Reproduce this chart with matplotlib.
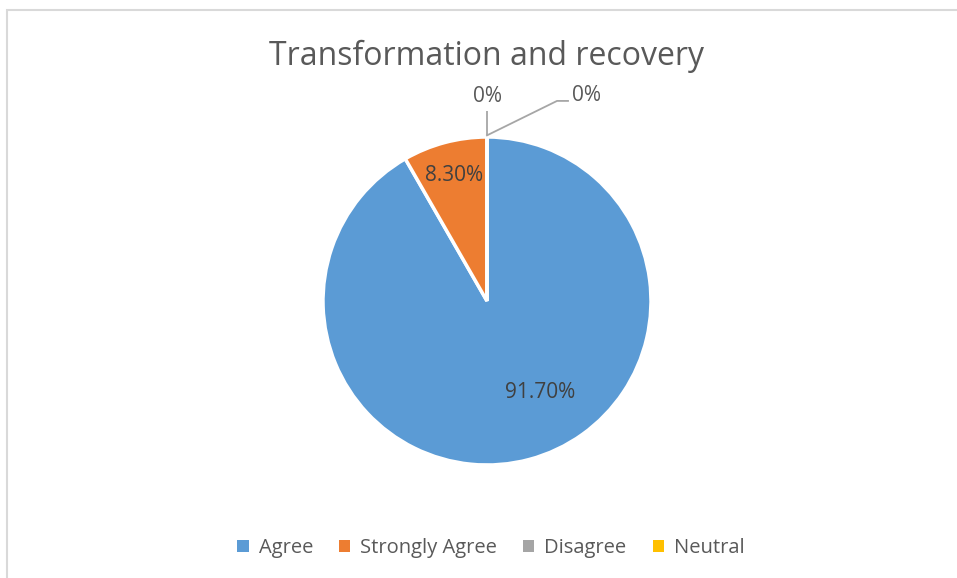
import matplotlib.pyplot as plt
from matplotlib.patches import Rectangle
import numpy as np

# Survey responses
labels = ["Agree", "Strongly Agree", "Disagree", "Neutral"]
shares = [91.7, 8.3, 0.0, 0.0]
pct_text = ["91.70%", "8.30%", "0%", "0%"]
colors = ["#5B9BD5", "#ED7D31", "#A5A5A5", "#FFC000"]

plt.rcParams["font.family"] = ["Open Sans", "DejaVu Sans"]
text_color = "#595959"

W, H = 957, 578
fig = plt.figure(figsize=(W / 100, H / 100), dpi=100)

# light chart frame
fig.patches.append(Rectangle((7 / W, -0.1), 1.1, 1 - 10 / H + 0.1, transform=fig.transFigure,
                             fill=False, edgecolor="#D9D9D9", linewidth=1.5))

# axes sized so that one data unit equals the pie radius in pixels
R = 164
cx, cy = 487, 301
hw, hh = 300, 250
ax = fig.add_axes([(cx - hw) / W, 1 - (cy + hh) / H, 2 * hw / W, 2 * hh / H])

wedges, _ = ax.pie(shares, colors=colors, startangle=90, counterclock=False,
                   radius=1, frame=True,
                   wedgeprops=dict(edgecolor="white", linewidth=2.5))
ax.set_xlim(-hw / R, hw / R)
ax.set_ylim(-hh / R, hh / R)
ax.axis("off")

# inside labels
def mid_angle(w):
    return np.deg2rad((w.theta1 + w.theta2) / 2)

lbl_size = 15
a = np.deg2rad(-60)
ax.text(0.647 * np.cos(a), 0.647 * np.sin(a), pct_text[0], ha="center", va="center",
        fontsize=lbl_size, color="#404040")
a = mid_angle(wedges[1])
ax.text(0.79 * np.cos(a), 0.79 * np.sin(a), pct_text[1], ha="center", va="center",
        fontsize=lbl_size, color="#404040")

# zero slices get labels outside with leader lines
ax.plot([0, 0], [1.01, 1.16], color="#A6A6A6", lw=1.3, solid_capstyle="butt")
ax.text(0, 1.25, pct_text[2], ha="center", va="center", fontsize=lbl_size, color=text_color)
ax.plot([0, 0.427, 0.494], [1.01, 1.22, 1.22], color="#A6A6A6", lw=1.3)
ax.text(0.52, 1.256, pct_text[3], ha="left", va="center", fontsize=lbl_size, color=text_color)

fig.text(cx / W, 1 - 56 / H, "Transformation and recovery", ha="center", va="center",
         fontsize=23, color=text_color)

handles = [Rectangle((0, 0), 1, 1, facecolor=c) for c in colors]
fig.legend(handles, labels, loc="center", bbox_to_anchor=(491 / W, 1 - 548 / H),
           ncol=4, frameon=False, fontsize=14.5, labelcolor=text_color,
           handlelength=0.55, handleheight=0.55, handletextpad=0.5, columnspacing=1.3)

fig.savefig("out.png", dpi=100)
